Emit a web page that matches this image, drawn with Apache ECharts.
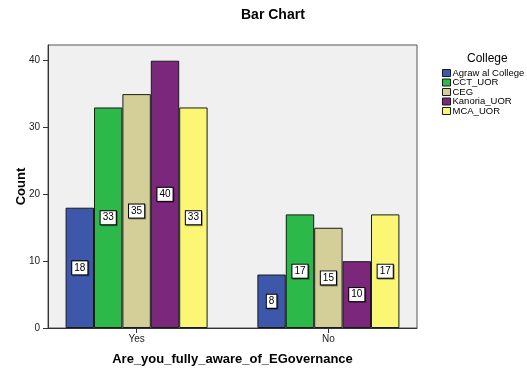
<!DOCTYPE html>
<html>
<head>
<meta charset="utf-8">
<script src="https://cdn.jsdelivr.net/npm/echarts@6/dist/echarts.min.js"></script>
<style>
  html, body { margin: 0; padding: 0; background: #ffffff; }
  #chart { width: 527px; height: 369px; }
</style>
</head>
<body>
<div id="chart"></div>
<script>
// Answers on the x axis
var categories = ['Yes', 'No'];
// Colleges (legend entries)
var colleges = ['Agraw al College', 'CCT_UOR', 'CEG', 'Kanoria_UOR', 'MCA_UOR'];
// Counts per college, in the order of categories
var agrawalCounts = [18, 8];
var cctCounts = [33, 17];
var cegCounts = [35, 15];
var kanoriaCounts = [40, 10];
var mcaCounts = [33, 17];
// Tick labels on the count axis
var countTicks = [0, 10, 20, 30, 40];

var countsByCollege = [agrawalCounts, cctCounts, cegCounts, kanoriaCounts, mcaCounts];
var colors = ['#3d57ab', '#2db84a', '#d4cf99', '#7b277b', '#fbf775'];
var fontFamily = '"Liberation Sans", Arial, sans-serif';
var categoryIndex = categories.map(function (c, i) { return i; });

var series = colleges.map(function (name, s) {
  return {
    name: name,
    type: 'bar',
    barWidth: 28.4,
    barGap: '0%',
    data: categoryIndex.map(function (i) { return [i, countsByCollege[s][i]]; }),
    itemStyle: { color: colors[s], borderColor: '#1a1a1a', borderWidth: 1 },
    label: {
      show: true,
      position: 'inside',
      formatter: function (p) { return String(p.value[1]); },
      color: '#000',
      fontFamily: fontFamily,
      fontSize: 10,
      backgroundColor: '#ffffff',
      borderColor: '#000000',
      borderWidth: 1,
      padding: [1, 2, 1, 2],
      lineHeight: 11,
      shadowColor: 'rgba(0,0,0,0.35)',
      shadowOffsetX: 1,
      shadowOffsetY: 1,
      shadowBlur: 0
    },
    emphasis: { disabled: true }
  };
});

var chart = echarts.init(document.getElementById('chart'), null, { renderer: 'canvas' });
chart.setOption({
  animation: false,
  backgroundColor: '#ffffff',
  title: [
    {
      text: 'Bar Chart',
      left: 236,
      top: 3,
      textStyle: { fontFamily: fontFamily, fontSize: 14, fontWeight: 'bold', color: '#000' }
    },
    {
      text: 'College',
      left: 462,
      top: 48,
      textStyle: { fontFamily: fontFamily, fontSize: 12, fontWeight: 'normal', color: '#000' }
    }
  ],
  legend: {
    orient: 'vertical',
    left: 437,
    top: 63,
    padding: [5, 0, 5, 5],
    itemWidth: 8,
    itemHeight: 7,
    itemGap: -0.5,
    icon: 'rect',
    selectedMode: false,
    textStyle: { fontFamily: fontFamily, fontSize: 9.5, lineHeight: 8, color: '#000', padding: [0, 0, 0, -3] },
    itemStyle: { borderColor: '#1a1a1a', borderWidth: 1 },
    data: colleges
  },
  grid: {
    left: 48,
    right: 110,
    top: 45,
    bottom: 41,
    outerBoundsMode: 'none',
    show: true,
    backgroundColor: '#f0f0f0',
    borderColor: '#555555',
    borderWidth: 1
  },
  xAxis: {
    type: 'value',
    min: -0.462,
    max: categories.length - 1 + 0.462,
    name: 'Are_you_fully_aware_of_EGovernance',
    nameLocation: 'middle',
    nameGap: 25,
    nameMoveOverlap: false,
    nameTextStyle: { fontFamily: fontFamily, fontSize: 13, fontWeight: 'bold', color: '#000' },
    axisLine: { show: true, onZero: false, lineStyle: { color: '#333', width: 1 } },
    axisTick: { show: true, inside: false, length: 5, customValues: categoryIndex, lineStyle: { color: '#333', width: 1 } },
    axisLabel: {
      customValues: categoryIndex,
      formatter: function (v) { return categories[Math.round(v)]; },
      fontFamily: fontFamily, fontSize: 10, color: '#222', margin: 6
    },
    splitLine: { show: false }
  },
  yAxis: {
    type: 'value',
    min: 0,
    max: 42.35,
    name: 'Count',
    nameLocation: 'middle',
    nameGap: 20,
    nameMoveOverlap: false,
    nameTextStyle: { fontFamily: fontFamily, fontSize: 13, fontWeight: 'bold', color: '#000' },
    axisLine: { show: true, onZero: false, lineStyle: { color: '#333', width: 1 } },
    axisTick: { show: true, inside: false, length: 5, customValues: countTicks, lineStyle: { color: '#333', width: 1 } },
    axisLabel: { customValues: countTicks, fontFamily: fontFamily, fontSize: 10, color: '#222', margin: 8 },
    splitLine: { show: false }
  },
  series: series
});
</script>
</body>
</html>
